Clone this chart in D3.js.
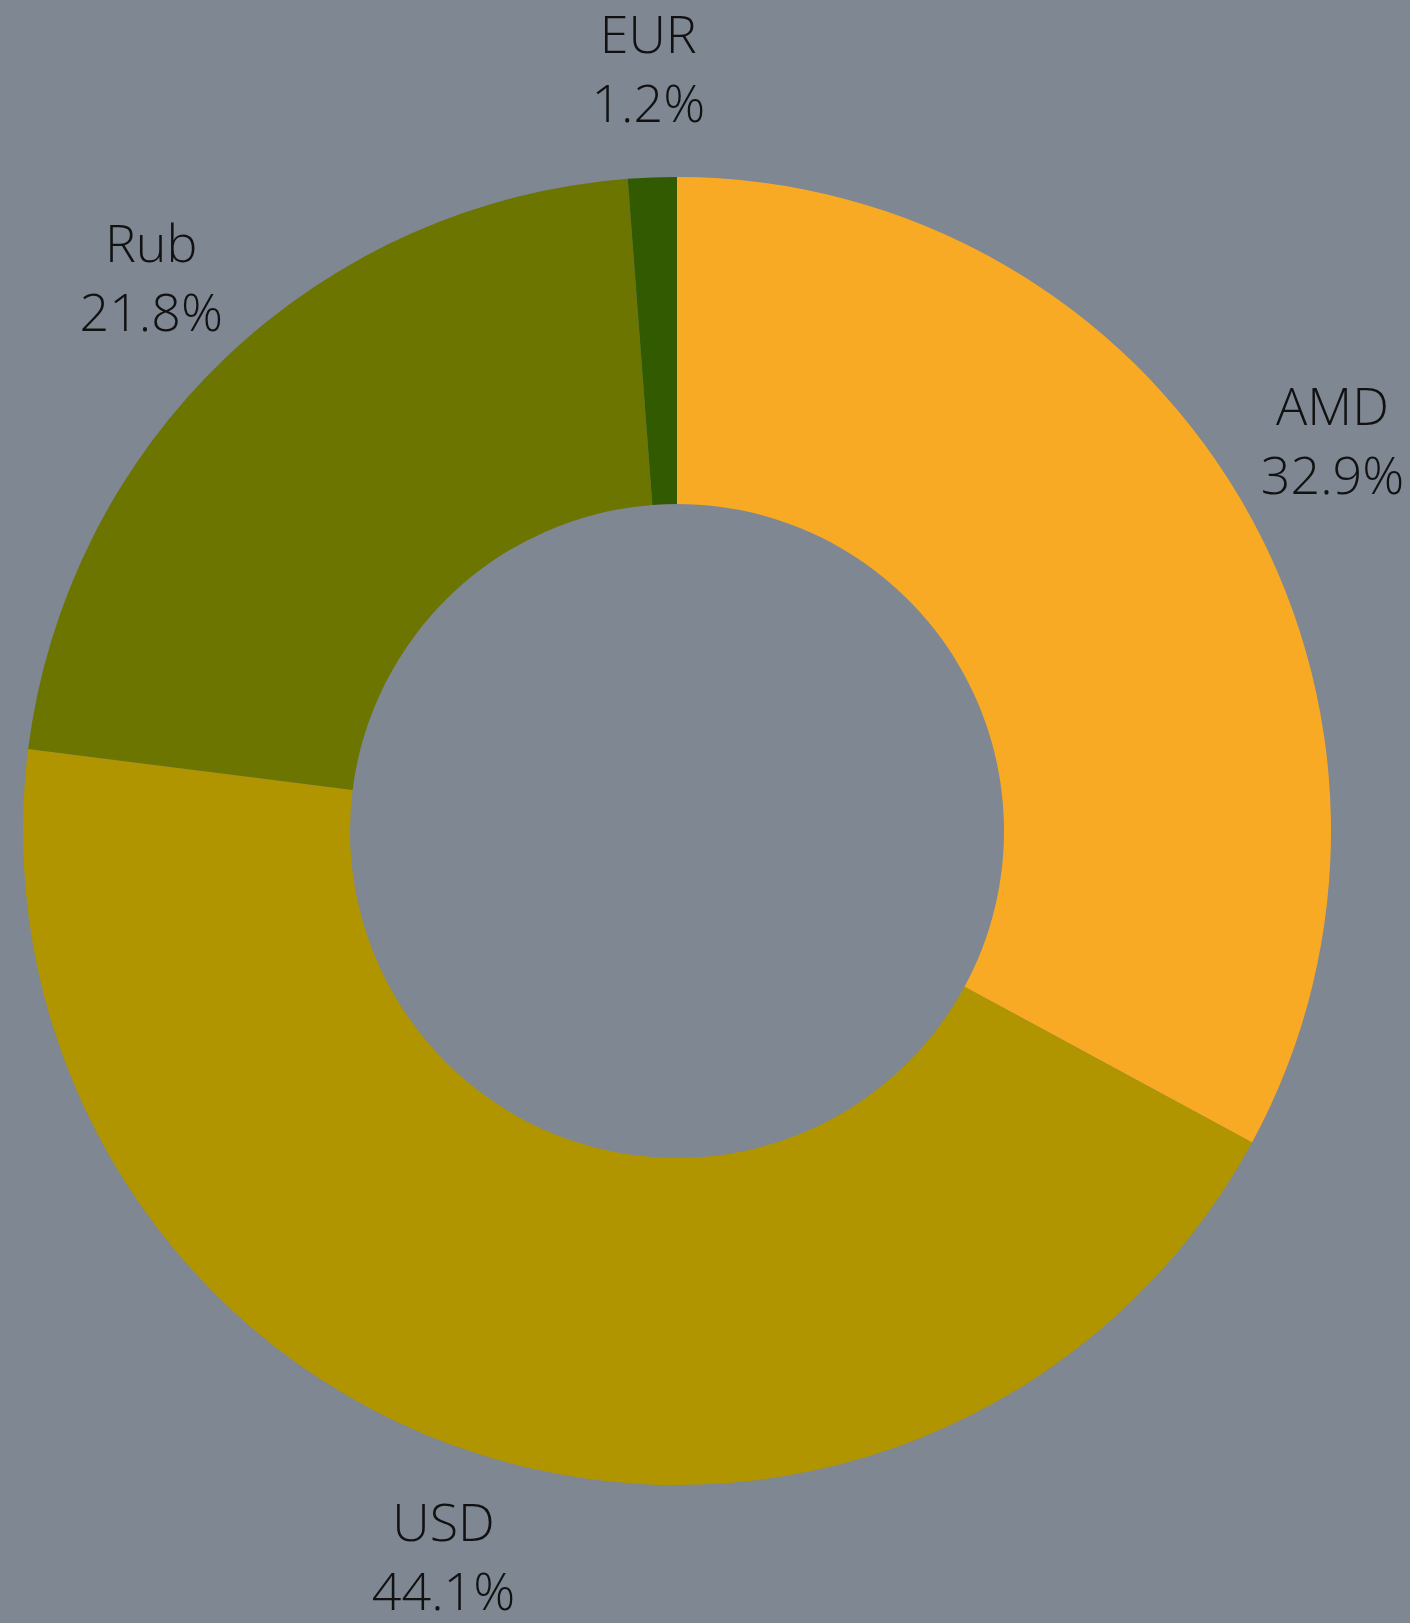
<!DOCTYPE html>
<html>
<head>
<meta charset="utf-8">
<script src="https://cdn.jsdelivr.net/npm/d3@7"></script>
<style>
  html, body { margin: 0; padding: 0; background: #7e8792; }
  svg { display: block; }
</style>
</head>
<body>
<svg id="chart" width="1410" height="1623"></svg>
<script>
var labels = ["AMD", "USD", "Rub", "EUR"];
var shares = [32.9, 44.1, 21.8, 1.2];
var colors = ["#f9aa24", "#b09500", "#6c7500", "#325a00"];

var width = 1410, height = 1623;
var cx = 677, cy = 831;
var outerR = 654, innerR = 327, labelR = 763;

var data = labels.map((l, i) => ({ label: l, value: shares[i], color: colors[i] }));

var svg = d3.select("#chart");
svg.append("rect").attr("width", width).attr("height", height).attr("fill", "#7e8792");

var g = svg.append("g").attr("transform", "translate(" + cx + "," + cy + ")");

var pie = d3.pie().sort(null).value(d => d.value);
var arc = d3.arc().innerRadius(innerR).outerRadius(outerR);
var labelArc = d3.arc().innerRadius(labelR).outerRadius(labelR);

var arcs = pie(data);

g.selectAll("path.slice")
  .data(arcs)
  .join("path")
  .classed("slice", true)
  .attr("d", arc)
  .attr("fill", d => d.data.color);

var lbl = g.selectAll("g.label")
  .data(arcs)
  .join("g")
  .classed("label", true)
  .attr("transform", d => "translate(" + labelArc.centroid(d) + ")");

lbl.append("text")
  .attr("text-anchor", "middle")
  .attr("y", -16)
  .style("font-family", "'Open Sans', sans-serif")
  .style("font-weight", 300)
  .style("font-size", "52px")
  .attr("fill", "#111")
  .text(d => d.data.label);

lbl.append("text")
  .attr("text-anchor", "middle")
  .attr("y", 53)
  .style("font-family", "'Open Sans', sans-serif")
  .style("font-weight", 300)
  .style("font-size", "52px")
  .attr("fill", "#111")
  .text(d => d.data.value.toFixed(1) + "%");
</script>
</body>
</html>
